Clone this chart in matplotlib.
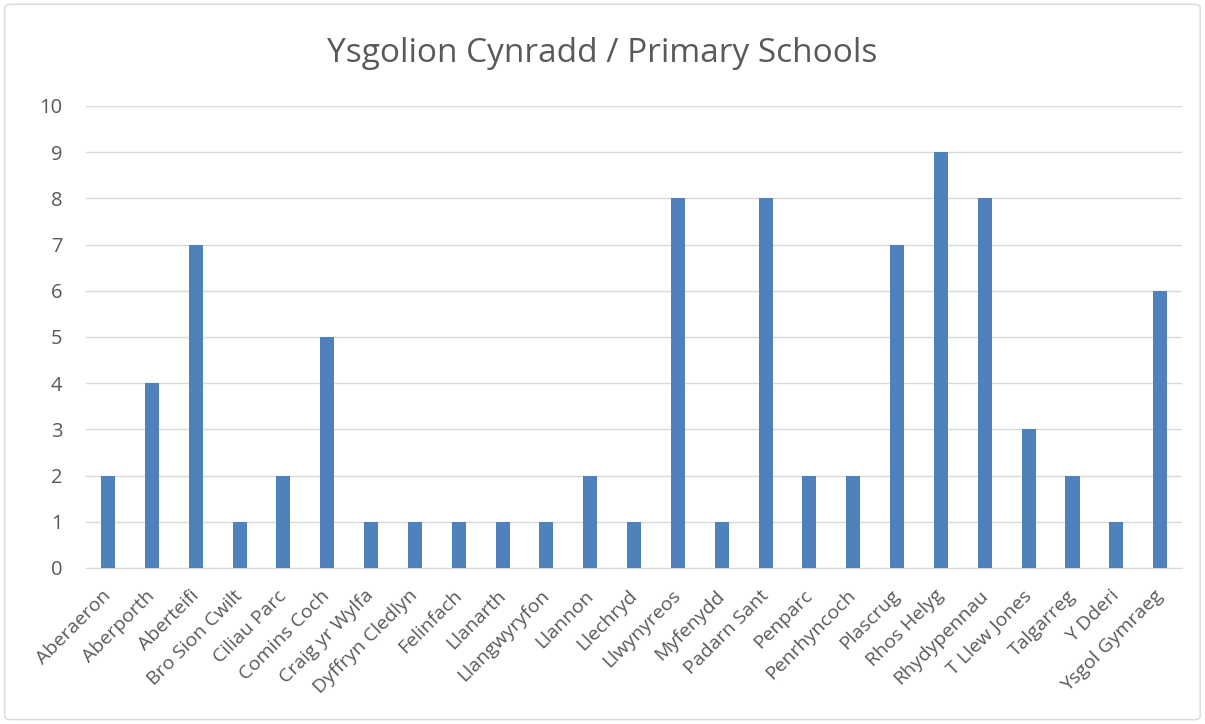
import matplotlib.pyplot as plt
from matplotlib.patches import FancyBboxPatch

# schools and counts
schools = ["Aberaeron", "Aberporth", "Aberteifi", "Bro Sion Cwilt", "Ciliau Parc",
           "Comins Coch", "Craig yr Wylfa", "Dyffryn Cledlyn", "Felinfach", "Llanarth",
           "Llangwyryfon", "Llannon", "Llechryd", "Llwynyreos", "Myfenydd",
           "Padarn Sant", "Penparc", "Penrhyncoch", "Plascrug", "Rhos Helyg",
           "Rhydypennau", "T Llew Jones", "Talgarreg", "Y Dderi", "Ysgol Gymraeg"]
counts = [2, 4, 7, 1, 2, 5, 1, 1, 1, 1, 1, 2, 1, 8, 1, 8, 2, 2, 7, 9, 8, 3, 2, 1, 6]
yticks = list(range(0, 11))

plt.rcParams['font.family'] = ['Open Sans', 'DejaVu Sans']
text_col = '#595959'

fig = plt.figure(figsize=(12.05, 7.24), dpi=100)
ax = fig.add_axes([0.0715, 0.2155, 0.9095, 0.6381])

x = range(len(schools))
ax.bar(x, counts, width=0.32, color='#4F81BD', zorder=3)

ax.set_xlim(-0.5, len(schools) - 0.5)
ax.set_ylim(0, 10)
ax.set_yticks(yticks)
ax.set_yticklabels([str(v) for v in yticks], fontsize=14.5, color=text_col)
ax.set_xticks(list(x))
ax.set_xticklabels(schools, rotation=45, ha='right', va='center', rotation_mode='anchor',
                   fontsize=14, color=text_col)
ax.tick_params(axis='y', length=0, pad=17)
ax.tick_params(axis='x', length=0, pad=18)
ax.grid(axis='y', color='#D9D9D9', linewidth=1, zorder=0)
for side in ['top', 'right', 'left']:
    ax.spines[side].set_visible(False)
ax.spines['bottom'].set_color('#D9D9D9')

fig.text(0.5, 0.926, "Ysgolion Cynradd / Primary Schools", ha='center', va='center',
         fontsize=24, color=text_col)

border = FancyBboxPatch((0.004, 0.006), 0.992, 0.988, boxstyle="round,pad=0,rounding_size=0.005",
                        transform=fig.transFigure, fill=False, edgecolor='#D9D9D9', linewidth=1)
fig.patches.append(border)

fig.savefig('out.png', dpi=100)
